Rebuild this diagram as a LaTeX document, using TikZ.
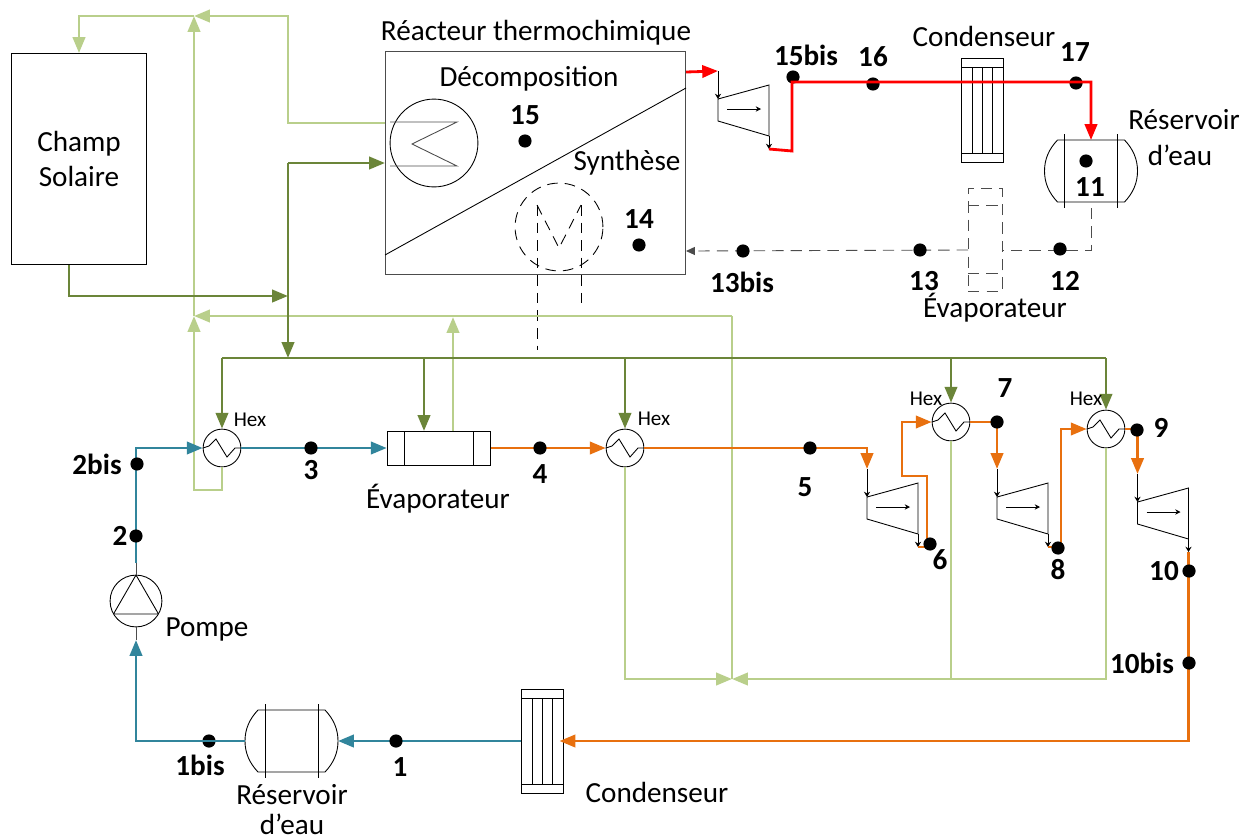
\documentclass[tikz,border=0pt]{standalone}
\usepackage{fontspec}
\setmainfont{Carlito}
\usetikzlibrary{arrows.meta, calc}

\definecolor{darkgr}{HTML}{6B8539}
\definecolor{lightgr}{HTML}{B9CF8B}
\definecolor{bluep}{HTML}{31859C}
\definecolor{orangep}{HTML}{E8700F}

\tikzset{
    turbine/.pic={
        \draw[line width=0.5pt] (0,0) -- (51,-14) -- (51,37) -- (0,22) -- cycle;
        \draw[line width=0.5pt, -{Stealth[length=3pt,width=3pt]}] (9,10) -- (43,10);
        \coordinate (-in) at (0,-28);
        \coordinate (-out) at (51,50);
        \draw[line width=0.5pt, -{Stealth[length=3pt,width=3.5pt]}] (-in) -- (0,0);
        \draw[line width=0.5pt, -{Stealth[length=3pt,width=3.5pt]}] (51,37) -- (-out);
    },
    condens/.pic={
        \draw[line width=0.5pt] (-21,-52) rectangle (21,52);
        \draw[line width=0.5pt] (-21,-43) -- (21,-43);
        \draw[line width=0.5pt] (-21,43) -- (21,43);
        \foreach \xx in {-10,0,10} { \draw[line width=0.5pt] (\xx,-43) -- (\xx,43); }
        \coordinate (-west) at (-21,0);
        \coordinate (-east) at (21,0);
    },
    reservoir/.pic={
        \draw[line width=0.5pt] (-33.5,-31) -- (33.5,-31) .. controls (42,-22) and (46.5,-12) .. (46.5,0)
            .. controls (46.5,12) and (42,22) .. (33.5,31) -- (-33.5,31)
            .. controls (-42,22) and (-46.5,12) .. (-46.5,0)
            .. controls (-46.5,-12) and (-42,-22) .. (-33.5,-31);
        \draw[line width=0.5pt] (-26.5,-37) -- (-26.5,37);
        \draw[line width=0.5pt] (26.5,-37) -- (26.5,37);
        \coordinate (-west) at (-46.5,0);
        \coordinate (-east) at (46.5,0);
        \coordinate (-north) at (0,-31);
        \coordinate (-south) at (0,37);
    }
}

\begin{document}
\begin{tikzpicture}[
    x=0.02cm, y=-0.02cm,
    every node/.style={inner sep=0pt, font=\fontsize{16.6}{20}\selectfont},
    fine/.style={line width=0.5pt},
    numlab/.style={font=\fontsize{16.6}{20}\selectfont\bfseries},
    hexlab/.style={font=\fontsize{12}{14}\selectfont},
    pt/.style={circle, fill=black, minimum size=7.5pt},
    box/.style={draw, line width=0.6pt},
    hex/.style={circle, draw, fine, minimum size=21.5pt, path picture={
        \draw[fine] (path picture bounding box.center) ++(-19,0) -- ++(6,-2) -- ++(7,-7) -- ++(11,18) -- ++(8,-9) -- ++(6,0);
    }},
    pump/.style={circle, draw, fine, minimum size=29.5pt, path picture={
        \draw[fine] (path picture bounding box.center) ++(0,-26) -- ++(-22.5,39) -- ++(45,0) -- cycle;
    }},
    evapbox/.style={draw, fine, minimum width=59pt, minimum height=19.3pt, path picture={
        \draw[fine] (path picture bounding box.center) ++(-35,-20) -- ++(0,40);
        \draw[fine] (path picture bounding box.center) ++(34,-20) -- ++(0,40);
    }},
    pipe/.style={line width=1.6pt},
    tip/.style={-{Triangle[length=9pt,width=7pt]}},
    darkp/.style={pipe, draw=darkgr},
    lightp/.style={pipe, draw=lightgr},
    bluepp/.style={pipe, draw=bluep},
    orangepp/.style={pipe, draw=orangep},
    redp/.style={pipe, draw=red},
    dashp/.style={fine, draw=black!70, dash pattern=on 6.5pt off 4pt}
]
\useasboundingbox (0,0) rectangle (1243,839);

% Champ solaire and reactor
\node[box, minimum width=77pt, minimum height=120pt, align=center] (champ) at (79,159)
    {Champ\\Solaire};
\node[box, draw=black!70, minimum width=170.6pt, minimum height=127pt] (reac) at (535.5,163) {};
\draw[fine] (385,255) coordinate (diagA) -- (686,88) coordinate (diagB);
\node (reacTitle) at (536,33) {Réacteur thermochimique};
\node (decomp) at (529,79) {Décomposition};
\node (synth) at (627,163) {Synthèse};

% Exchanger coils in the reactor
\node[circle, draw, fine, minimum size=50pt] (coilD) at (434,143) {};
\draw[fine, draw=black!70] (390,122) -- (457,122) -- (412,144) -- (457,166) -- (390,166);
\node[circle, draw, fine, dash pattern=on 6pt off 4pt, minimum size=50pt] (coilS) at (559,227) {};
\coordinate (coilA) at (537,205);
\coordinate (coilB) at (581,205);
\coordinate (coilC) at (559,248);
\coordinate (dashEndA) at (537,350);
\coordinate (dashEndB) at (581,305);
\draw[fine, dash pattern=on 6pt off 4pt] (coilA) -- (coilC) -- (coilB);
\draw[fine, dash pattern=on 6pt off 4pt] (coilA) -- (dashEndA);
\draw[fine, dash pattern=on 6pt off 4pt] (coilB) -- (dashEndB);

% Components
\node[hex] (hexA) at (222,448) {};
\node[hex] (hexB) at (625,448) {};
\node[hex] (hexC) at (951,422) {};
\node[hex] (hexD) at (1106,429) {};
\node[evapbox] (evapA) at (439,448) {};
\node[draw, dashp, minimum width=19.3pt, minimum height=59pt] (evapT) at (985,240) {};
\draw[dashp] (968,205) -- (1002,205);
\draw[dashp] (968,273) -- (1002,273);
\node[pump] (pump) at (136,601) {};
\pic (tbR) at (718,99) {turbine};
\pic (tbA) at (867,497) {turbine};
\pic (tbB) at (997,497) {turbine};
\pic (tbC) at (1137.5,502) {turbine};
\pic (condT) at (982,110) {condens};
\pic (condB) at (542,741) {condens};
\pic (resT) at (1091,171) {reservoir};
\pic (resB) at (291.5,741) {reservoir};

% Points lying under their pipes
\foreach \name/\xx/\yy in {15bis/793/77, 16/873/84, 17/1076/83, 1bis/209/741} {
    \node[pt] (p\name) at (\xx,\yy) {};
}

% Light green return lines
\coordinate (reacOut) at (385,123);
\coordinate (topA) at (288,16);
\coordinate (topB) at (194,16);
\coordinate (midA) at (194,316);
\coordinate (loopA) at (194,490);
\coordinate (retA) at (732,316);
\coordinate (retB) at (732,679);
\coordinate (evapOut) at (453,431);
\coordinate (evapIn) at (453,317);
\draw[lightp, tip] (reacOut) -| (topA) -- (topB);
\draw[lightp, tip] (topB) -| (champ.north);
\draw[lightp, tip] (midA) -- (topB);
\draw[lightp, tip] (retA) -- (midA);
\draw[lightp, tip] (hexA.south) |- (loopA) -- (midA);
\draw[lightp, tip] (evapOut) -- (evapIn);
\draw[lightp] (retB) -- (retA);
\draw[lightp, tip] (hexB.south) |- (retB);
\draw[lightp, tip] (hexD.south) |- (retB);
\draw[lightp] (hexC.south) -- (hexC.south |- retB);

% Dark green heating lines
\coordinate (busW) at (222,358);
\coordinate (busN) at (288,358);
\coordinate (busE) at (1106,358);
\coordinate (busV) at (424,358);
\coordinate (evapV) at (424,431);
\coordinate (upA) at (288,163);
\coordinate (reacIn) at (385,163);
\coordinate (champOut) at (69,265);
\coordinate (busJ) at (288,296);
\draw[darkp, tip] (champOut) |- (busJ);
\draw[darkp, tip] (upA) -- (reacIn);
\draw[darkp, tip] (upA) -- (busN);
\draw[darkp] (busW) -- (busE);
\draw[darkp, tip] (busW) -- (hexA.north);
\draw[darkp, tip] (busV) -- (evapV);
\draw[darkp, tip] (hexB.north |- busW) -- (hexB.north);
\draw[darkp, tip] (hexC.north |- busW) -- (hexC.north);
\draw[darkp, tip] (busE) -- (hexD.north);

% Blue water loop
\coordinate (pumpIn) at (136,640);
\coordinate (pumpOut) at (136,563);
\draw[bluepp, tip] (condB-west) -- (resB-east);
\draw[bluepp, tip] (resB-west) -| (pumpIn);
\draw[fine, draw=black!70] (pumpIn) -- (pump.south);
\draw[fine, draw=black!70] (pump.north) -- (pumpOut);
\draw[bluepp, tip] (pumpOut) |- (hexA.west);
\draw[bluepp, tip] (hexA.east) -- (evapA.west);

% Orange steam line
\coordinate (cA) at (927,476);
\coordinate (cB) at (902,476);
\coordinate (cC) at (1061,429);
\draw[orangepp, tip] (evapA.east) -- (hexB.west);
\draw[orangepp, tip] (hexB.east) -| (tbA-in);
\draw[orangepp, tip] (tbA-out) -| (cA) -- (cB) |- (hexC.west);
\draw[orangepp, tip] (hexC.east) -| (tbB-in);
\draw[orangepp, tip] (tbB-out) -| (cC) -- (hexD.west);
\draw[orangepp, tip] (hexD.east) -| (tbC-in);
\draw[orangepp, tip, shorten >=-2pt] (tbC-out) |- (condB-east);

% Red line and dashed line of the reactor
\coordinate (reacR) at (686,72);
\coordinate (cD) at (792,151);
\coordinate (cE) at (792,82);
\coordinate (evapE) at (1002,250);
\coordinate (evapW) at (968,250);
\coordinate (reacTh) at (686,251);
\draw[redp, tip] (reacR) -- (tbR-in);
\draw[redp, tip] (tbR-out) -- (cD) -- (cE) -| (resT-north);
\draw[dashp] (resT-south) |- (evapE);
\draw[dashp, -{Triangle[length=5pt,width=4.5pt]}] (evapW) -- (reacTh);

% State points
\foreach \name/\xx/\yy in {
    1/396/741, 2/136/536, 2bis/137/464, 3/311/448, 4/540/448, 5/810/448,
    6/930/544, 7/997/422, 8/1058/548, 9/1137/430, 10/1189/571, 10bis/1189/663,
    11/1086/161, 12/1060/249, 13/920/250, 13bis/743/251, 14/639/245, 15/525/141
} {
    \node[pt] (p\name) at (\xx,\yy) {};
}

% Point labels
\foreach \name/\xx/\yy in {
    1/400/767, 1bis/200/765, 2/120/536, 2bis/97/464, 3/311/470, 4/540/474,
    5/805/487, 6/940/560, 7/1005/388, 8/1058/570, 9/1161/428, 10/1164/571,
    10bis/1142/663, 11/1090/187, 12/1065/281, 13/924/281, 13bis/742/282,
    14/639/219, 15/525/115, 15bis/806/55, 16/873/57, 17/1075/52
} {
    \node[numlab] (l\name) at (\xx,\yy) {\name};
}

% Component labels
\node[hexlab] (hexlabA) at (250,420) {Hex};
\node[hexlab] (hexlabB) at (654,419) {Hex};
\node[hexlab] (hexlabC) at (926,399) {Hex};
\node[hexlab] (hexlabD) at (1086,399) {Hex};
\node (condlabT) at (984,36) {Condenseur};
\node (condlabB) at (657,792) {Condenseur};
\node (evaplabA) at (438,499) {Évaporateur};
\node (evaplabT) at (995,308) {Évaporateur};
\node (pompe) at (207,629) {Pompe};
\node (reslabTa) at (1184,120) {Réservoir};
\node (reslabTb) at (1180,155) {d’eau};
\node (reslabBa) at (292,795) {Réservoir};
\node (reslabBb) at (292,824) {d’eau};
\end{tikzpicture}
\end{document}
